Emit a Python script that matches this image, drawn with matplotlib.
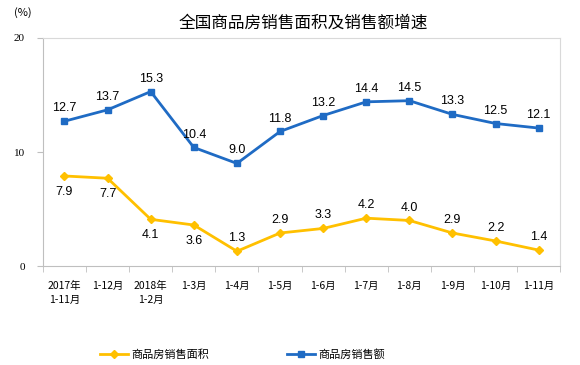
import numpy as np
import matplotlib.pyplot as plt

plt.rcParams['font.family'] = ['Noto Sans CJK SC', 'DejaVu Sans']

# Data
categories = ["2017年\n1-11月", "1-12月", "2018年\n1-2月", "1-3月", "1-4月", "1-5月",
              "1-6月", "1-7月", "1-8月", "1-9月", "1-10月", "1-11月"]
area = [7.9, 7.7, 4.1, 3.6, 1.3, 2.9, 3.3, 4.2, 4.0, 2.9, 2.2, 1.4]
sales = [12.7, 13.7, 15.3, 10.4, 9.0, 11.8, 13.2, 14.4, 14.5, 13.3, 12.5, 12.1]

yellow = "#FFC000"
blue = "#1F6BC4"

fig = plt.figure(figsize=(5.8, 3.65), dpi=100)
ax = fig.add_axes([0.074, 0.271, 0.892, 0.625])

x = np.arange(len(categories))
ax.plot(x, area, color=yellow, lw=2, marker="D", ms=4.5, label="商品房销售面积")
ax.plot(x, sales, color=blue, lw=2, marker="s", ms=4.5, label="商品房销售额")

# yellow labels: first four below the point, the rest above
for i, (xi, v) in enumerate(zip(x, area)):
    if i < 4:
        ax.annotate(f"{v:.1f}", (xi, v), xytext=(0, -7), textcoords="offset points",
                    ha="center", va="top", fontsize=9, family="Liberation Sans")
    else:
        ax.annotate(f"{v:.1f}", (xi, v), xytext=(0, 5), textcoords="offset points",
                    ha="center", va="bottom", fontsize=9, family="Liberation Sans")
for xi, v in zip(x, sales):
    ax.annotate(f"{v:.1f}", (xi, v), xytext=(0, 5), textcoords="offset points",
                ha="center", va="bottom", fontsize=9, family="Liberation Sans")

ax.set_xlim(-0.5, len(categories) - 0.5)
ax.set_ylim(0, 20)
ax.set_yticks([0, 10, 20])
ax.set_yticklabels(["0", "10", "20"], fontsize=8, family="Liberation Serif")
ax.set_xticks(x)
ax.set_xticklabels(categories, fontsize=7.5, linespacing=1.45)
ax.set_xticks(np.arange(-0.5, len(categories)), minor=True)
ax.tick_params(axis="x", which="major", length=0, pad=11)
ax.tick_params(axis="x", which="minor", length=4, color="#BFBFBF")
ax.tick_params(axis="y", length=4, color="#BFBFBF", pad=9)

ax.spines["top"].set_color("#D9D9D9")
ax.spines["right"].set_color("#D9D9D9")
ax.spines["left"].set_color("#BFBFBF")
ax.spines["bottom"].set_color("#BFBFBF")

fig.text(0.523, 0.937, "全国商品房销售面积及销售额增速", ha="center", va="center", fontsize=12)
fig.text(0.04, 0.965, "(%)", ha="center", va="center", fontsize=8)

fig.legend(loc="center", bbox_to_anchor=(0.418, 0.03), ncol=2, frameon=False,
           fontsize=8, columnspacing=7, handlelength=2.5, handletextpad=0.3)

plt.savefig("out.png", dpi=100)
